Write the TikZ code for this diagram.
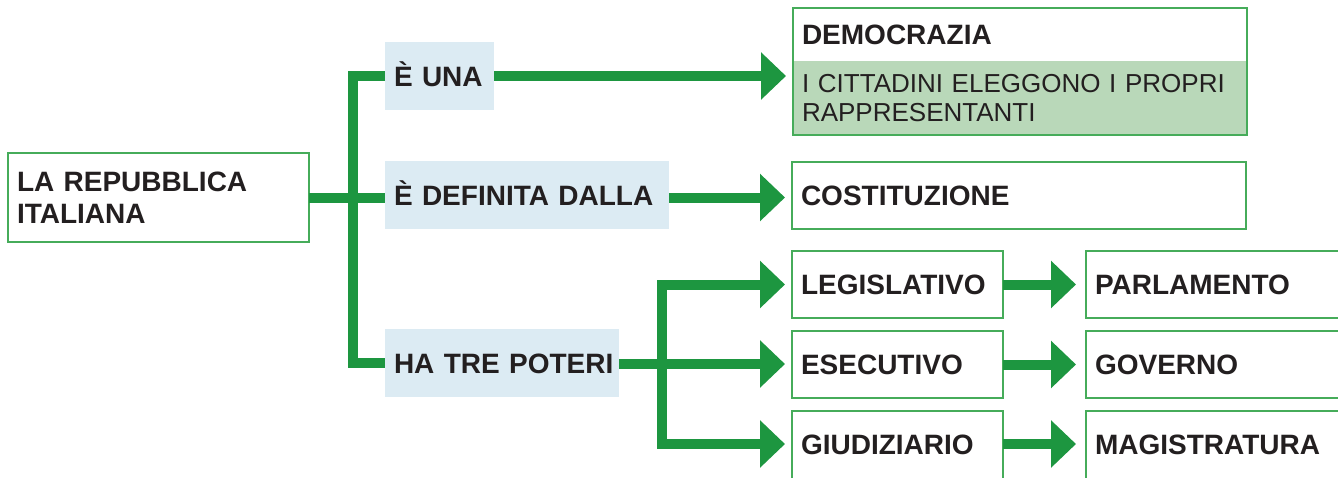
\documentclass[tikz,border=0pt]{standalone}
\usepackage{fontspec}
\setmainfont{Liberation Sans}
\usetikzlibrary{arrows.meta}
\definecolor{linegreen}{RGB}{29,150,64}
\definecolor{bordergreen}{RGB}{70,172,90}
\definecolor{lblue}{RGB}{220,235,243}
\definecolor{lgreen}{RGB}{185,216,185}
\definecolor{ink}{RGB}{35,31,32}
\tikzset{
  base/.style={anchor=north west, inner xsep=9pt, inner ysep=0pt, outer sep=0pt,
    align=left, text=ink, font=\bfseries\fontsize{28}{32}\selectfont,
    execute at begin node={\hyphenpenalty=10000\exhyphenpenalty=10000\hbadness=10000\hfuzz=20pt}},
  one/.style={text height=20pt, text depth=0pt},
  box/.style={base, draw=bordergreen, line width=1.3pt, fill=white},
  verb/.style={base, one, fill=lblue},
  conn/.style={draw=linegreen, line width=10pt, line join=miter},
  arr/.style={conn, -{Triangle[length=25pt,width=46pt]}, shorten >=7pt},
}
\begin{document}
\begin{tikzpicture}[x=1pt,y=-1pt]
\useasboundingbox (0,0) rectangle (1338,477);
% root
\node[box, text width=283pt, minimum height=89pt] (rep) at (8,153) {LA REPUBBLICA\\ITALIANA};
% verbs
\node[verb, text width=91pt, minimum height=68pt] (una) at (385,42) {È UNA};
\node[verb, text width=266pt, minimum height=68pt] (def) at (385,161) {È DEFINITA DALLA};
\node[verb, text width=216pt, minimum height=68pt] (tre) at (385,329) {\mbox{HA TRE POTERI}};
% democrazia
\node[base, one, fill=white, text width=436pt, minimum height=53pt] (demot) at (793,8) {DEMOCRAZIA};
\node[base, fill=lgreen, text width=436pt, minimum height=74pt,
      font=\fontsize{26}{29}\selectfont] (demod) at (793,61) {I CITTADINI ELEGGONO I PROPRI\\RAPPRESENTANTI};
\draw[bordergreen, line width=1.3pt] (demot.north west) rectangle (demod.south east);
% costituzione
\node[box, one, text width=436pt, minimum height=67pt] (cost) at (792,162) {COSTITUZIONE};
% poteri
\node[box, one, text width=193pt, minimum height=67pt] (leg) at (792,251) {LEGISLATIVO};
\node[box, one, text width=193pt, minimum height=67pt] (ese) at (792,331) {ESECUTIVO};
\node[box, one, text depth=6pt, text width=193pt, minimum height=72pt] (giu) at (792,411) {GIUDIZIARIO};
\node[box, one, text width=242pt, minimum height=67pt] (par) at (1086,251) {PARLAMENTO};
\node[box, one, text width=242pt, minimum height=67pt] (gov) at (1086,331) {GOVERNO};
\node[box, one, text depth=6pt, text width=242pt, minimum height=72pt] (mag) at (1086,411) {MAGISTRATURA};
% connectors
\coordinate (j) at (353,197.5);
\coordinate (s) at (662,364);
\coordinate (gw) at ([yshift=3pt]giu.west);
\coordinate (ge) at ([yshift=3pt]giu.east);
\coordinate (mw) at ([yshift=3pt]mag.west);
\draw[conn] (una.west) -| (j) |- (tre.west);
\draw[conn] (rep.east) -- (rep.east -| def.west);
\draw[arr] (una.east) -- (una.east -| demod.west);
\draw[arr] (def.east |- rep.east) -- (cost.west |- rep.east);
\draw[arr] (tre.east |- s) -- (s) |- (leg.west);
\draw[arr] (s) |- (gw);
\draw[arr] (s) -- (s -| ese.west);
\draw[arr, shorten >=10pt] (leg.east) -- (par.west);
\draw[arr, shorten >=10pt] (ese.east) -- (gov.west);
\draw[arr, shorten >=10pt] (ge) -- (mw);
\end{tikzpicture}
\end{document}
